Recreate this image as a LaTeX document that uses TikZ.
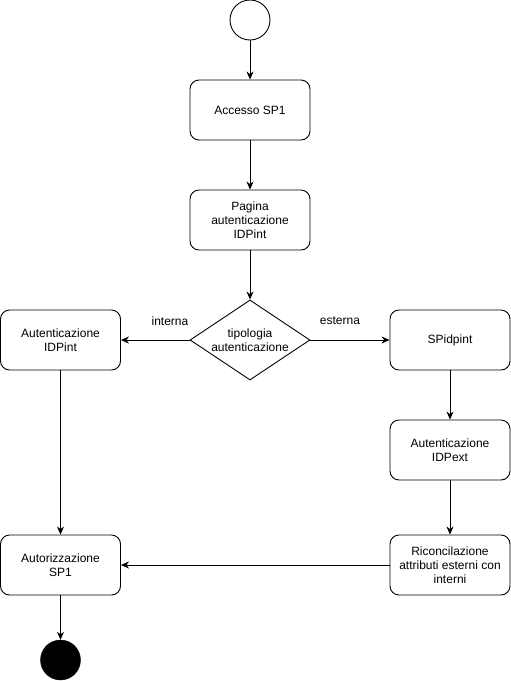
\documentclass[tikz,border=0pt]{standalone}
\usepackage{fontspec}
\setmainfont{Liberation Sans}
\usetikzlibrary{arrows.meta,shapes.geometric}
\tikzstyle{act}=[rectangle,rounded corners=9pt,draw=black,line width=0.9pt,
  minimum width=120pt,minimum height=60pt,align=center,font=\fontsize{12}{14}\selectfont]
\tikzstyle{dec}=[diamond,draw=black,line width=0.9pt,minimum width=120pt,
  minimum height=80pt,inner sep=0pt,aspect=1.5,align=center,font=\fontsize{12}{14}\selectfont]
\tikzstyle{ini}=[circle,draw=black,line width=0.9pt,minimum size=40pt,inner sep=0pt]
\tikzstyle{fin}=[circle,fill=black,draw=black,minimum size=40pt,inner sep=0pt]
\tikzstyle{lbl}=[font=\fontsize{12}{14}\selectfont]
\tikzstyle{arr}=[line width=0.9pt,-{Stealth[length=8pt,width=7pt,inset=2.5pt]}]

\begin{document}
\begin{tikzpicture}[x=1pt,y=-1pt]
            \useasboundingbox (0,0) rectangle (511,681);
            \node [style=ini] (0) at (250, 20) {};
            \node [style=act] (1) at (250, 110) {Accesso SP1};
            \node [style=act] (2) at (250, 220) {Pagina\\autenticazione\\IDPint};
            \node [style=dec] (3) at (250, 340) {tipologia\\autenticazione};
            \node [style=act] (4) at (60.5, 340) {Autenticazione\\IDPint};
            \node [style=act] (5) at (450, 340) {SPidpint};
            \node [style=act] (6) at (450, 450) {Autenticazione\\IDPext};
            \node [style=act] (7) at (450, 565) {Riconcilazione\\attributi esterni con\\interni};
            \node [style=act] (8) at (60.5, 565) {Autorizzazione\\SP1};
            \node [style=fin] (9) at (60.5, 660) {};
            \node [style=lbl] (10) at (170, 321) {interna};
            \node [style=lbl] (11) at (340, 321) {esterna};
            \draw [style=arr] (0) to (1);
            \draw [style=arr] (1) to (2);
            \draw [style=arr] (2) to (3);
            \draw [style=arr] (3) to (4);
            \draw [style=arr] (3) to (5);
            \draw [style=arr] (5) to (6);
            \draw [style=arr] (6) to (7);
            \draw [style=arr] (7) to (8);
            \draw [style=arr] (4) to (8);
            \draw [style=arr] (8) to (9);
    \end{tikzpicture}
\end{document}
